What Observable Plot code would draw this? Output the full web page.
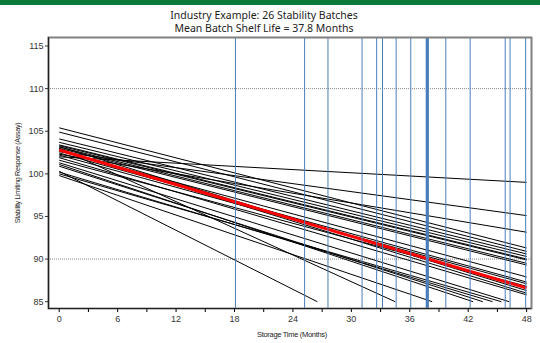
<!DOCTYPE html>
<html>
<head>
<meta charset="utf-8">
<script src="https://cdn.jsdelivr.net/npm/d3@7"></script>
<script src="https://cdn.jsdelivr.net/npm/@observablehq/plot@0.6"></script>
<style>
  html, body { margin: 0; padding: 0; background: #fff; }
  #wrap { position: relative; width: 540px; height: 343px; overflow: hidden; }
  #bar { position: absolute; left: 0; top: 0; width: 540px; height: 5px; background: #0a7a3a; }
  .title { position: absolute; left: 0; width: 528px; text-align: center; font-family: "Noto Sans", "Open Sans", sans-serif; font-size: 10.5px; color: #222; }
  #chart { position: absolute; left: 0; top: 0; }
</style>
</head>
<body>
<div id="wrap">
  <div id="chart"></div>
  <div id="bar"></div>
  <div class="title" style="top:8px">Industry Example: 26 Stability Batches</div>
  <div class="title" style="top:21px">Mean Batch Shelf Life = 37.8 Months</div>
</div>
<script>
// Batch regression lines: value at month 0, and end point (month, value)
const batchStart    = [102.0, 102.6, 102.3, 105.4, 104.9, 104.1, 103.7, 103.4, 103.3, 103.15, 103.0, 102.7, 102.45, 102.2, 101.6, 103.2, 102.9, 101.9, 100.3, 103.0, 99.8, 101.1, 100.9, 100.2, 100.0, 101.3];
const batchEndMonth = [48, 48, 48, 48, 48, 48, 48, 48, 48, 48, 48, 48, 48, 48, 48, 48, 48, 48, 26.5, 34.5, 38.3, 42.5, 43.5, 44.5, 45.4, 46.2];
const batchEndValue = [99.0, 95.1, 93.15, 91.3, 90.9, 90.6, 90.3, 90.0, 89.9, 89.5, 89.3, 87.9, 87.3, 87.1, 86.8, 86.3, 86.0, 85.8, 85, 85, 85, 85, 85, 85, 85, 85];
// Mean line
const meanStart = 102.8;
const meanEndMonth = 48;
const meanEndValue = 86.6;
// Individual batch shelf lives (months) and the mean
const shelfLife = [18.1, 25.2, 27.6, 31.1, 32.6, 33.2, 34.6, 36.1, 39.7, 42.2, 45.8, 46.3, 47.9];
const meanShelfLife = 37.8;
// Axis ticks
const xTicks = [0, 3, 6, 9, 12, 15, 18, 21, 24, 27, 30, 33, 36, 39, 42, 45, 48];
const xLabels = [0, 6, 12, 18, 24, 30, 36, 42, 48];
const yTicks = [85, 90, 95, 100, 105, 110, 115];
const gridY = [90, 110];

const batches = batchStart.map((s, i) => ({x1: 0, y1: s, x2: batchEndMonth[i], y2: batchEndValue[i]}));
const meanLine = [{x1: 0, y1: meanStart, x2: meanEndMonth, y2: meanEndValue}];

const axisFont = "Liberation Sans, Arial, sans-serif";

const plot = Plot.plot({
  width: 540,
  height: 343,
  marginLeft: 48,
  marginRight: 9,
  marginTop: 37,
  marginBottom: 35,
  style: {fontFamily: axisFont, fontSize: "9px", color: "#333", background: "transparent"},
  x: {domain: [-1.1, 48.5]},
  y: {domain: [84.2, 116]},
  marks: [
    Plot.ruleY(gridY, {stroke: "#888", strokeWidth: 1, strokeDasharray: "1,1"}),
    Plot.link(batches, {x1: "x1", y1: "y1", x2: "x2", y2: "y2", stroke: "#000", strokeWidth: 1}),
    Plot.link(meanLine, {x1: "x1", y1: "y1", x2: "x2", y2: "y2", stroke: "#ff0000", strokeWidth: 3}),
    Plot.ruleX(shelfLife, {stroke: "#4a7ebb", strokeWidth: 1}),
    Plot.ruleX([meanShelfLife], {stroke: "#4a7ebb", strokeWidth: 3.2}),
    Plot.frame({stroke: "#808080", strokeWidth: 2}),
    Plot.axisX({ticks: xTicks, tickSize: 4, tickFormat: d => xLabels.includes(d) ? String(d) : "", tickPadding: 3, label: null, stroke: "#000"}),
    Plot.axisY({ticks: yTicks, tickSize: 3, tickPadding: 2, label: null}),
    Plot.ruleX([-1.1], {stroke: "#222", strokeWidth: 1.2}),
    Plot.ruleY([84.2], {stroke: "#222", strokeWidth: 1.2})
  ]
});

const svg = d3.select(plot);
// axis titles
svg.append("text")
  .attr("x", 292).attr("y", 337)
  .attr("text-anchor", "middle")
  .attr("font-family", axisFont).attr("font-size", "7.5px").attr("letter-spacing", "-0.3px")
  .attr("fill", "#222")
  .text("Storage Time (Months)");
svg.append("text")
  .attr("transform", "translate(20,173) rotate(-90)")
  .attr("text-anchor", "middle")
  .attr("font-family", axisFont).attr("font-size", "7.2px").attr("letter-spacing", "-0.35px")
  .attr("fill", "#222")
  .text("Stability Limiting Response (Assay)");

document.getElementById("chart").appendChild(plot);
</script>
</body>
</html>
